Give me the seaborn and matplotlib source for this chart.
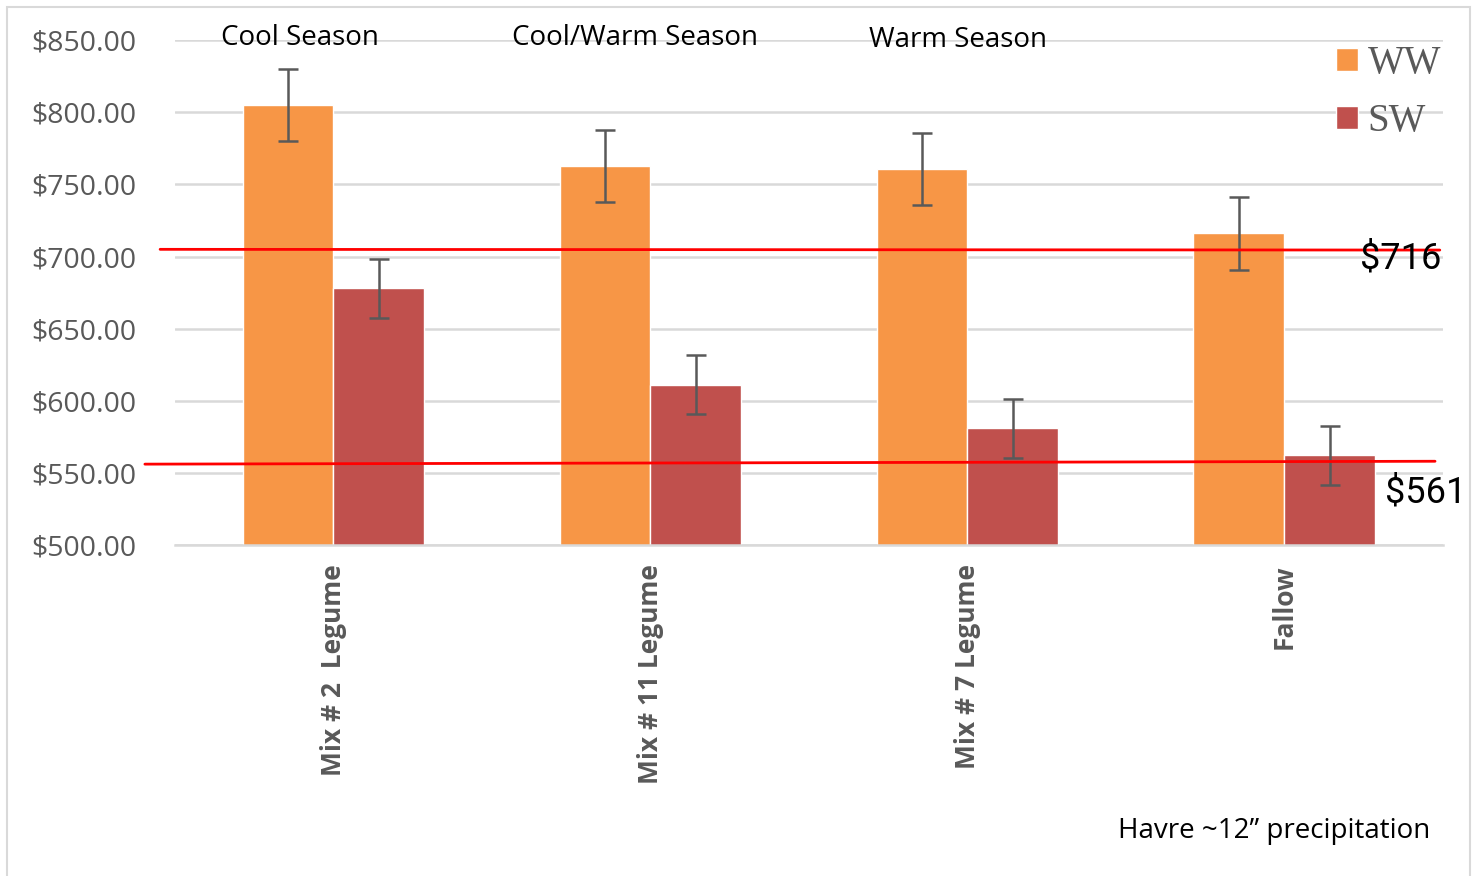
import pandas as pd
import matplotlib.pyplot as plt
import seaborn as sns
from matplotlib.patches import Rectangle, Patch

# data
treatments = ['Mix # 2  Legume', 'Mix # 11 Legume', 'Mix # 7 Legume', 'Fallow']
seasons = ['Cool Season', 'Cool/Warm Season', 'Warm Season']
ww_values = [805, 763, 761, 716]
sw_values = [678, 611, 581, 562]
ww_err = [25, 25, 25, 25]
sw_err = [20.5, 20.5, 20.5, 20.5]
ref_levels = [705, 557]
ref_labels = ['$716', '$561']

df = pd.DataFrame({
    'treatment': treatments * 2,
    'wheat': ['WW'] * 4 + ['SW'] * 4,
    'value': ww_values + sw_values,
})

sns.set_style("white")
plt.rcParams['font.family'] = ['Open Sans', 'DejaVu Sans']

colors = {'WW': '#F79646', 'SW': '#C0504D'}
gray = '#595959'

fig = plt.figure(figsize=(14.78, 8.76), dpi=100)
ax = fig.add_axes([0.1184, 0.378, 0.8579, 0.576])

sns.barplot(data=df, x='treatment', y='value', hue='wheat', palette=colors,
            width=0.574, ax=ax, legend=False, saturation=1, errorbar=None)

# error bars on each bar
for cont, errs in zip(ax.containers, [ww_err, sw_err]):
    for bar, e in zip(cont, errs):
        xc = bar.get_x() + bar.get_width() / 2
        ax.errorbar(xc, bar.get_height(), yerr=e, fmt='none', ecolor=gray,
                    elinewidth=1.8, capsize=7, capthick=1.8, zorder=4)

ax.set_xlim(-0.5, 3.5)
ax.set_ylim(500, 850)
ax.set_yticks(range(500, 851, 50))
ax.set_yticklabels([f'${v:.2f}' for v in range(500, 851, 50)], fontsize=20.5, color=gray)
ax.yaxis.grid(True, color='#d9d9d9', linewidth=1.8)
ax.set_axisbelow(True)
ax.tick_params(axis='y', length=0, pad=28)
ax.tick_params(axis='x', length=0, pad=14)
plt.setp(ax.get_xticklabels(), rotation=90, fontsize=19, fontweight='bold',
         color=gray, va='top', ha='center')
for s in ['top', 'right', 'left']:
    ax.spines[s].set_visible(False)
ax.spines['bottom'].set_color('#d9d9d9')
ax.spines['bottom'].set_linewidth(1.8)
ax.set_xlabel('')
ax.set_ylabel('')

# red reference lines (drawn slightly beyond the plot area)
ax.plot([-0.547, 3.49], [ref_levels[0], ref_levels[0] - 0.5], color='red',
        lw=2, clip_on=False, zorder=5)
ax.plot([-0.595, 3.475], [ref_levels[1] - 1, ref_levels[1] + 1], color='red',
        lw=2, clip_on=False, zorder=5)
narrow = ['Roboto', 'DejaVu Sans']
fig.text(1441 / 1478, 1 - 258 / 876, ref_labels[0], fontsize=26, family=narrow,
         ha='right', va='center', color='black')
fig.text(1466 / 1478, 1 - 492 / 876, ref_labels[1], fontsize=26, family=narrow,
         ha='right', va='center', color='black')

# season labels above the groups
for x, y, s in zip([300, 635, 958], [38, 38, 40], seasons):
    fig.text(x / 1478, 1 - y / 876, s, fontsize=20, ha='center', va='center',
             color='black')

fig.text(1430 / 1478, 1 - 831 / 876, 'Havre ~12\u201d precipitation', fontsize=20,
         ha='right', va='center', color='black')

# legend
handles = [Patch(facecolor=colors[k], label=k) for k in ['WW', 'SW']]
fig.legend(handles=handles, loc='upper right', bbox_to_anchor=(1476 / 1478, 1 - 10 / 876),
           frameon=False, prop={'family': 'Liberation Serif', 'size': 28},
           labelcolor=gray, handlelength=0.55, handleheight=0.55, handletextpad=0.25,
           labelspacing=0.55)

# outer frame
fig.patches.append(Rectangle((7 / 1478, -0.01), 1463 / 1478, 1 - 7 / 876 + 0.01,
                             transform=fig.transFigure, fill=False,
                             edgecolor='#d9d9d9', lw=1.5))

fig.savefig('out.png', dpi=100)
